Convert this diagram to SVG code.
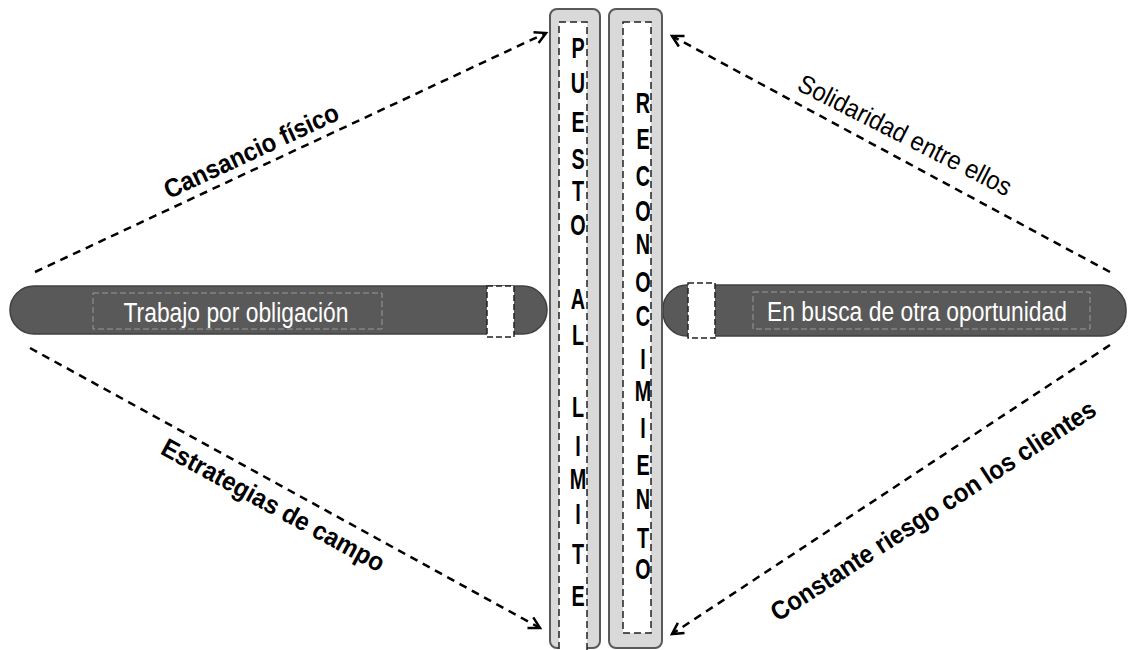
<svg xmlns="http://www.w3.org/2000/svg" width="1132" height="650" viewBox="0 0 1132 650">
<style>
.conn{fill:none;stroke:#000;stroke-width:2.5;stroke-dasharray:8,6}
.box{fill:#d9d9d9;stroke:#595959;stroke-width:2}
.inner{fill:#fff;stroke:#222;stroke-width:1.5;stroke-dasharray:7,4}
.bar{fill:#595959;stroke:#404040;stroke-width:1.5}
.barin{fill:none;stroke:#9a9a9a;stroke-width:1;stroke-dasharray:6,3}
.sq{fill:#fff;stroke:#222;stroke-width:1.5;stroke-dasharray:6,3}
.lbl{font-family:"Liberation Sans",Arial,sans-serif;font-size:26px;fill:#000;text-anchor:middle}
.b{font-weight:bold}
.bt{font-family:"Liberation Sans",Arial,sans-serif;font-size:27px;fill:#fff;text-anchor:middle}
.v{font-family:"Liberation Sans",Arial,sans-serif;font-size:30px;font-weight:bold;fill:#000;text-anchor:middle}
</style>
<defs>
<marker id="arr" markerWidth="16" markerHeight="16" refX="13" refY="8" orient="auto" markerUnits="userSpaceOnUse">
<path d="M2,2 L13,8 L2,14" fill="none" stroke="#000" stroke-width="2.5"/>
</marker>
</defs>

<g id="connectors">
<line class="conn" x1="35" y1="272" x2="546" y2="33" marker-end="url(#arr)"/>
<line class="conn" x1="1110" y1="272" x2="672" y2="36" marker-end="url(#arr)"/>
<line class="conn" x1="30" y1="348" x2="540" y2="628" marker-end="url(#arr)"/>
<line class="conn" x1="1110" y1="345" x2="672" y2="634" marker-end="url(#arr)"/>
</g>

<g id="labels">
<text class="lbl b" transform="translate(255,159) rotate(-25)" textLength="190" lengthAdjust="spacingAndGlyphs">Cansancio físico</text>
<text class="lbl" transform="translate(901,143) rotate(27)" textLength="236" lengthAdjust="spacingAndGlyphs">Solidaridad entre ellos</text>
<text class="lbl b" transform="translate(269,513) rotate(28.5)" textLength="250" lengthAdjust="spacingAndGlyphs">Estrategias de campo</text>
<text class="lbl b" transform="translate(938,518) rotate(-33)" textLength="382" lengthAdjust="spacingAndGlyphs">Constante riesgo con los clientes</text>
</g>

<g id="bar-left">
<rect class="bar" x="10" y="286" width="537" height="48" rx="24"/>
<rect class="barin" x="93" y="293" width="289" height="36"/>
<text class="bt" x="236" y="322" textLength="225" lengthAdjust="spacingAndGlyphs">Trabajo por obligación</text>
<rect class="sq" x="487" y="286" width="27" height="51"/>
</g>

<g id="bar-right">
<rect class="bar" x="663" y="285" width="463" height="51" rx="24"/>
<rect class="barin" x="753" y="292" width="337" height="37"/>
<text class="bt" x="917" y="321" textLength="300" lengthAdjust="spacingAndGlyphs">En busca de otra oportunidad</text>
<rect class="sq" x="688" y="283" width="27" height="55"/>
</g>

<g id="puesto-al-limite">
<rect class="box" x="550" y="9" width="50" height="639" rx="7"/>
<rect class="inner" x="559" y="22" width="28" height="632"/>
<g transform="translate(578,0) scale(0.66,1)">
<text class="v" x="0" y="58">P</text>
<text class="v" x="0" y="93">U</text>
<text class="v" x="0" y="132">E</text>
<text class="v" x="0" y="169">S</text>
<text class="v" x="0" y="201">T</text>
<text class="v" x="0" y="235">O</text>
<text class="v" x="0" y="309">A</text>
<text class="v" x="0" y="345">L</text>
<text class="v" x="0" y="417">L</text>
<text class="v" x="0" y="456">I</text>
<text class="v" x="0" y="489">M</text>
<text class="v" x="0" y="524">I</text>
<text class="v" x="0" y="564">T</text>
<text class="v" x="0" y="606">E</text>
</g>
</g>

<g id="reconocimiento">
<rect class="box" x="609" y="9" width="53" height="639" rx="7"/>
<rect class="inner" x="623" y="22" width="28" height="611"/>
<g transform="translate(643,0) scale(0.66,1)">
<text class="v" x="0" y="113">R</text>
<text class="v" x="0" y="149">E</text>
<text class="v" x="0" y="186">C</text>
<text class="v" x="0" y="221">O</text>
<text class="v" x="0" y="254">N</text>
<text class="v" x="0" y="292">O</text>
<text class="v" x="0" y="326">C</text>
<text class="v" x="0" y="369">I</text>
<text class="v" x="0" y="401">M</text>
<text class="v" x="0" y="438">I</text>
<text class="v" x="0" y="475">E</text>
<text class="v" x="0" y="509">N</text>
<text class="v" x="0" y="548">T</text>
<text class="v" x="0" y="579">O</text>
</g>
</g>
</svg>
